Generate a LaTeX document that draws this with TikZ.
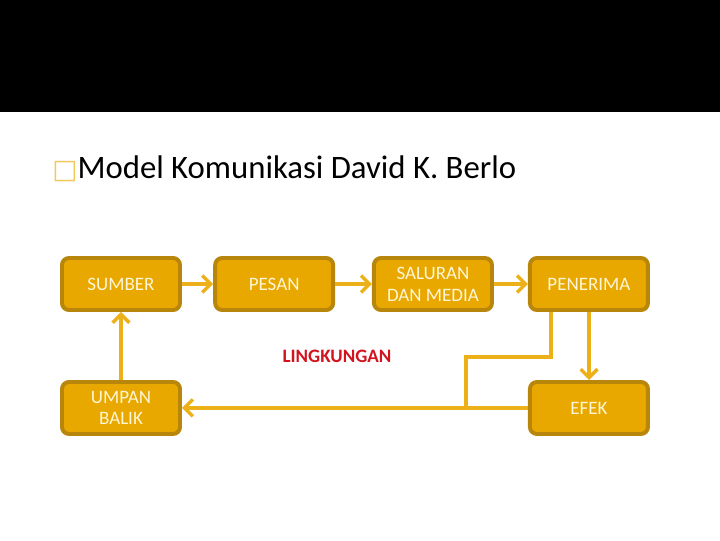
\documentclass[tikz,border=0pt]{standalone}
\usepackage{fontspec}
\setmainfont{Carlito}
\newfontfamily\symfont{DejaVu Sans}
\usepackage{xcolor}
\usepackage{tikz}
\usetikzlibrary{arrows.meta, positioning}
\definecolor{boxfill}{RGB}{232,168,0}
\definecolor{boxedge}{RGB}{184,134,11}
\definecolor{linkgold}{RGB}{236,176,24}
\definecolor{boxtext}{RGB}{255,246,214}
\definecolor{envred}{RGB}{210,20,30}

\begin{document}
\begin{tikzpicture}[
    x=0.025cm, y=-0.025cm,
    node distance=0.8cm,
    box/.style={rectangle, draw=boxedge, line width=2.8pt, rounded corners=5pt, fill=boxfill,
        minimum width=2.95cm, minimum height=1.3cm, align=center, text=boxtext,
        font=\fontsize{13.5}{15.5}\selectfont},
    link/.style={draw=linkgold, line width=2.6pt},
    arr/.style={link, -{Straight Barb[length=6pt, width=12pt, line width=2.4pt]}}
]
\useasboundingbox (0,0) rectangle (720,540);
\fill[black] (0,0) rectangle (720,112);

\node[anchor=base west, inner sep=0pt, font=\fontsize{23.3}{27}\selectfont] (title) at (52,178)
    {{\symfont\fontsize{19}{24}\selectfont\textcolor{linkgold!70!white}{□}}Model Komunikasi David K. Berlo};

\node[box] (sumber) at (121,284) {SUMBER};
\node[box, right=0.78cm of sumber] (pesan) {PESAN};
\node[box, right=0.92cm of pesan] (saluran) {SALURAN\\DAN MEDIA};
\node[box, right=0.85cm of saluran] (penerima) {PENERIMA};
\node[box, below=1.7cm of sumber] (umpan) {UMPAN\\BALIK};
\node[box, below=1.7cm of penerima] (efek) {EFEK};

\node[text=envred, font=\fontsize{13.5}{15}\selectfont\bfseries] (env) at (337,356) {LINGKUNGAN};

\coordinate (bend1) at (551,357);
\coordinate (bend2) at (466,357);
\coordinate (join) at (466,407);

\draw[arr] (sumber) -- (pesan);
\draw[arr] (pesan) -- (saluran);
\draw[arr] (saluran) -- (penerima);
\draw[arr] (penerima.south -| 589,0) -- (efek.north -| 589,0);
\draw[arr] (efek) -- (umpan);
\draw[arr] (umpan) -- (sumber);
\draw[link] (penerima.south -| bend1) -- (bend1) -- (bend2) -- (join);
\end{tikzpicture}
\end{document}
